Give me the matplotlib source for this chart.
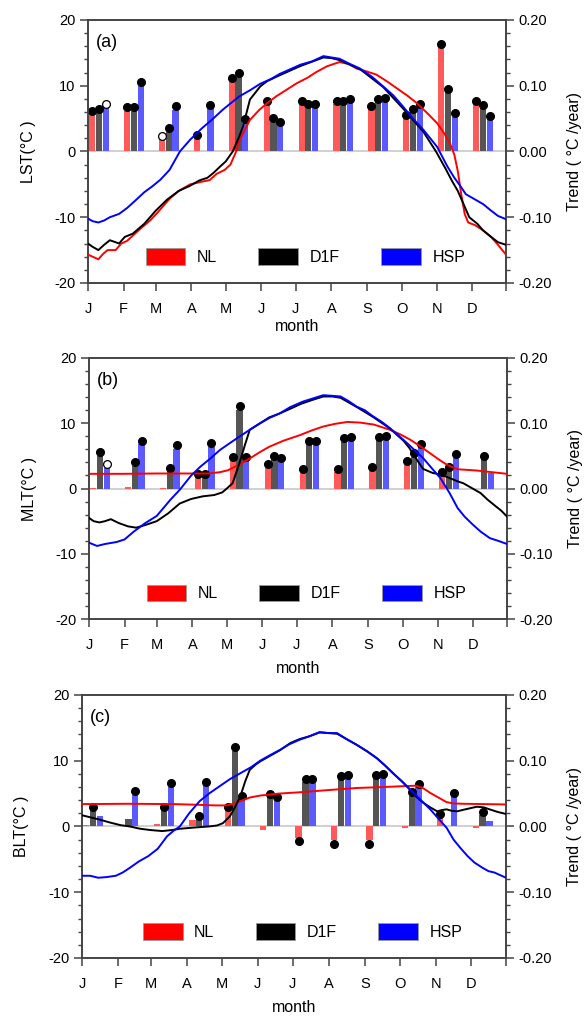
import numpy as np
import matplotlib
matplotlib.use('Agg')
import matplotlib.pyplot as plt
from matplotlib.patches import Patch
from matplotlib.ticker import MultipleLocator, FormatStrFormatter

plt.rcParams['font.family'] = ['Liberation Sans', 'DejaVu Sans']
plt.rcParams['axes.unicode_minus'] = False

# month axis (day of year)
month_days = [1, 32, 60, 91, 121, 152, 182, 213, 244, 274, 305, 335, 365]
month_labels = ['J', 'F', 'M', 'A', 'M', 'J', 'J', 'A', 'S', 'O', 'N', 'D', '']

# ---------------- (a) LST ----------------
# monthly trends (degC/year), dots: f = significant, o = not significant, - = none
nl_a = [0.056, 0.062, 0.019, 0.020, 0.106, 0.0725, 0.0725, 0.0725, 0.0645, 0.051, 0.159, 0.0725]
d1f_a = [0.060, 0.062, 0.030, 0.0, 0.115, 0.0455, 0.0675, 0.0725, 0.0745, 0.0595, 0.090, 0.066]
hsp_a = [0.0675, 0.100, 0.0635, 0.066, 0.044, 0.0405, 0.0675, 0.0745, 0.076, 0.067, 0.053, 0.049]
sig_nl_a = 'ffofffffffff'
sig_d1f_a = 'fff-ffffffff'
sig_hsp_a = 'offfffffffff'

# daily climatology (degC)
nl_a_day = [1, 5, 10, 14, 18, 25, 30, 35, 45, 55, 62, 72, 80, 90, 100, 107, 113, 120, 125, 130, 133,
            142, 150, 157, 165, 174, 183, 192, 200, 209, 220, 228, 235, 243, 252, 261, 270, 279, 287,
            296, 305, 311, 316, 320, 323, 326, 329, 332, 338, 345, 352, 358, 365]
nl_a_val = [-15.7, -16.0, -16.4, -15.6, -15.0, -15.0, -14.0, -13.6, -12.0, -10.5, -9.2, -7.2, -6.0,
            -5.0, -4.6, -4.35, -3.4, -2.8, -2.0, 0.0, 1.75, 4.8, 6.3, 7.35, 8.4, 9.4, 10.4, 11.2, 12.1,
            12.95, 13.6, 13.3, 12.6, 12.2, 11.7, 10.7, 9.6, 8.5, 7.4, 5.9, 4.3, 2.8, 1.3, -0.5, -3.0,
            -6.5, -9.5, -10.8, -11.2, -12.0, -13.0, -14.2, -15.7]
d1f_a_day = [1, 5, 10, 15, 20, 25, 28, 33, 40, 50, 60, 70, 80, 90, 98, 105, 110, 116, 121, 127, 132,
             136, 142, 151, 157, 168, 186, 206, 213, 220, 238, 258, 275, 293, 304, 312, 318, 323, 328,
             333, 340, 345, 352, 358, 365]
d1f_a_val = [-14.0, -14.5, -15.0, -14.2, -13.5, -13.8, -14.0, -13.0, -12.5, -11.0, -9.0, -7.3, -6.0,
             -5.2, -4.4, -4.0, -3.3, -2.3, -1.5, 0.0, 2.0, 3.8, 7.9, 9.9, 10.7, 11.6, 13.0, 14.3, 14.2,
             13.9, 12.5, 9.8, 6.6, 3.0, 0.0, -2.5, -4.5, -6.0, -8.0, -10.0, -11.0, -12.0, -13.0,
             -13.8, -14.2]
hsp_a_day = [1, 5, 10, 15, 20, 28, 35, 42, 50, 57, 64, 72, 81, 90, 100, 110, 118, 125, 133, 142, 151,
             160, 168, 177, 186, 196, 206, 213, 220, 228, 238, 248, 258, 267, 275, 284, 293, 305, 314,
             320, 325, 330, 337, 345, 352, 358, 365]
hsp_a_val = [-10.2, -10.6, -10.8, -10.5, -10.0, -9.5, -8.6, -7.5, -6.2, -5.3, -4.3, -2.8, 0.0, 1.8,
             3.5, 5.0, 6.3, 7.3, 8.4, 9.3, 10.3, 11.0, 11.8, 12.5, 13.2, 13.7, 14.5, 14.3, 14.1, 13.4,
             12.6, 11.4, 9.9, 8.5, 6.9, 5.0, 3.3, 0.7, -2.3, -4.0, -5.2, -6.5, -7.2, -8.0, -9.0, -9.8,
             -10.3]

# ---------------- (b) MLT ----------------
nl_b = [0.0015, 0.002, 0.0015, 0.0175, 0.044, 0.032, 0.025, 0.025, 0.0285, 0.0365, 0.020, -0.0015]
d1f_b = [0.0505, 0.035, 0.027, 0.0175, 0.121, 0.0455, 0.068, 0.072, 0.0745, 0.049, 0.0275, 0.0455]
hsp_b = [0.032, 0.0685, 0.061, 0.064, 0.0435, 0.0415, 0.068, 0.074, 0.0755, 0.063, 0.0475, 0.024]
sig_nl_b = '---ffffffff-'
sig_d1f_b = 'ffffffffffff'
sig_hsp_b = 'offffffffff-'

nl_b_day = [1, 30, 60, 90, 105, 115, 122, 130, 141, 150, 158, 170, 185, 195, 205, 215, 226, 237, 249,
            263, 272, 281, 290, 298, 306, 313, 322, 339, 352, 365]
nl_b_val = [2.25, 2.25, 2.3, 2.3, 2.3, 2.5, 2.8, 3.5, 4.6, 5.6, 6.4, 7.3, 8.2, 8.9, 9.5, 9.9, 10.2,
            10.1, 9.8, 9.0, 8.3, 7.45, 6.4, 5.4, 4.4, 3.6, 2.95, 2.75, 2.5, 2.25]
d1f_b_day = [1, 5, 10, 15, 20, 27, 35, 42, 50, 60, 70, 80, 90, 100, 110, 117, 121, 126, 132, 137, 141,
             150, 158, 167, 176, 186, 196, 205, 213, 220, 234, 248, 263, 275, 280, 288, 292, 300, 308,
             315, 322, 327, 335, 342, 348, 355, 360, 365]
d1f_b_val = [-4.5, -5.0, -5.2, -5.0, -4.7, -5.3, -5.8, -6.0, -5.6, -5.0, -3.8, -2.3, -1.6, -1.2, -1.0,
             -0.6, 0.0, 0.8, 3.9, 6.8, 9.0, 10.0, 10.9, 11.5, 12.2, 13.0, 13.6, 14.1, 14.1, 13.9, 12.5,
             11.0, 9.2, 7.3, 6.2, 4.0, 3.0, 2.4, 2.1, 1.6, 1.1, 0.8, 0.0, -0.7, -1.7, -2.7, -3.4, -4.3]
hsp_b_day = [1, 8, 15, 25, 32, 40, 50, 60, 72, 80, 90, 98, 106, 115, 124, 132, 141, 150, 158, 167, 176,
             187, 196, 205, 213, 220, 227, 234, 241, 248, 256, 263, 270, 278, 285, 292, 300, 307, 315,
             322, 328, 335, 342, 350, 357, 365]
hsp_b_val = [-8.3, -8.8, -8.5, -8.2, -7.8, -6.6, -5.3, -4.2, -1.7, -0.2, 2.0, 3.35, 4.5, 5.9, 7.0,
             7.95, 9.0, 10.0, 10.8, 11.5, 12.45, 13.3, 13.8, 14.3, 14.2, 14.1, 13.4, 12.55, 12.0, 11.1,
             10.2, 9.25, 8.2, 6.95, 5.8, 4.65, 3.0, 1.6, -0.7, -3.0, -4.3, -5.5, -6.6, -7.6, -8.0, -8.5]

# ---------------- (c) BLT ----------------
nl_c = [0.0015, 0.001, 0.003, 0.0105, 0.025, -0.006, -0.017, -0.021, -0.021, -0.002, 0.0135, -0.003]
d1f_c = [0.025, 0.012, 0.0245, 0.0115, 0.1155, 0.045, 0.067, 0.072, 0.074, 0.047, 0.0, 0.017]
hsp_c = [0.0155, 0.0485, 0.0605, 0.0625, 0.042, 0.040, 0.067, 0.074, 0.075, 0.0595, 0.046, 0.009]
sig_nl_c = '----f-fff-f-'
sig_d1f_c = 'f-ffffffff-f'
sig_hsp_c = '-ffffffffff-'

nl_c_day = [1, 40, 80, 100, 115, 125, 132, 137, 145, 154, 170, 188, 210, 237, 260, 280, 288, 294, 300,
            307, 314, 320, 328, 365]
nl_c_val = [3.4, 3.45, 3.4, 3.3, 3.2, 3.2, 3.5, 3.85, 4.4, 4.7, 5.0, 5.2, 5.5, 5.85, 6.0, 6.15, 6.2,
            5.8, 5.1, 4.4, 3.7, 3.5, 3.45, 3.35]
d1f_c_day = [1, 8, 16, 25, 34, 42, 51, 60, 70, 78, 85, 95, 102, 110, 117, 122, 128, 132, 137, 141, 145,
             150, 154, 160, 171, 180, 188, 196, 205, 213, 220, 228, 237, 246, 254, 261, 268, 276, 283,
             288, 294, 300, 306, 310, 314, 318, 323, 330, 340, 346, 351, 358, 365]
d1f_c_val = [1.7, 1.4, 1.05, 0.6, 0.2, 0.0, -0.35, -0.55, -0.7, -0.55, -0.35, -0.2, -0.1, 0.0, 0.15,
             0.5, 1.55, 2.8, 4.6, 6.8, 8.6, 9.4, 9.9, 10.5, 11.6, 12.7, 13.3, 13.7, 14.3, 14.2, 14.1,
             13.3, 12.4, 11.4, 10.4, 9.3, 8.1, 6.8, 5.5, 4.5, 3.6, 2.9, 2.3, 2.5, 2.6, 2.4, 2.3, 2.6,
             3.0, 2.9, 2.6, 2.2, 1.9]
hsp_c_day = [1, 8, 15, 22, 30, 36, 42, 50, 58, 66, 74, 80, 85, 93, 102, 110, 119, 128, 137, 146, 154,
             162, 171, 179, 188, 196, 205, 213, 220, 228, 237, 246, 254, 261, 268, 276, 283, 292, 300,
             307, 314, 320, 326, 332, 338, 345, 350, 355, 360, 365]
hsp_c_val = [-7.5, -7.5, -7.8, -7.7, -7.5, -7.0, -6.3, -5.3, -4.5, -3.4, -1.5, -0.6, 0.0, 2.0, 3.85,
             5.0, 6.1, 7.2, 8.1, 9.0, 10.0, 10.8, 11.65, 12.5, 13.2, 13.7, 14.35, 14.2, 14.2, 13.3,
             12.4, 11.4, 10.4, 9.3, 8.1, 6.8, 5.6, 4.0, 2.6, 1.2, -0.2, -2.0, -3.3, -4.5, -5.5, -6.3,
             -6.8, -7.0, -7.4, -7.8]

bar_colors = ['#ff5a5a', '#555555', '#5a5aff']
line_colors = ['#ff0000', '#000000', '#0000ff']
spine_color = '#444444'


def draw_panel(rect, tag, ylabel, bars, sigs, curves, xlab_pad):
    ax = fig.add_axes(rect)
    ax2 = ax.twinx()
    ax.set_zorder(ax2.get_zorder() + 1)
    ax.patch.set_visible(False)

    # bars (trend, right axis)
    centers = 10.5 + 30.4 * np.arange(12)
    step = 5.9
    ax2.axhline(0, color='#c8c8c8', lw=1.2, zorder=0)
    for k, (vals, sig) in enumerate(zip(bars, sigs)):
        xs = centers + (k - 1) * step
        vals = np.array(vals)
        ax2.bar(xs, vals, width=5.4, color=bar_colors[k], edgecolor='none', zorder=1)
        for x, v, s in zip(xs, vals, sig):
            if s == '-':
                continue
            yy = v + np.sign(v if v != 0 else 1) * 0.005
            fc = 'black' if s == 'f' else 'white'
            ax2.plot(x, yy, 'o', ms=5.6, mfc=fc, mec='black', mew=0.9, zorder=3)

    # daily curves (left axis)
    for k, (d, v) in enumerate(curves):
        ax.plot(d, v, color=line_colors[k], lw=1.4, zorder=4)

    ax.set_xlim(1, 365)
    ax.set_ylim(-20, 20)
    ax2.set_ylim(-0.2, 0.2)
    ax.set_xticks(month_days)
    ax.set_xticklabels(month_labels)
    ax.set_yticks([-20, -10, 0, 10, 20])
    ax.yaxis.set_minor_locator(MultipleLocator(2))
    ax2.set_yticks([-0.2, -0.1, 0.0, 0.1, 0.2])
    ax2.yaxis.set_minor_locator(MultipleLocator(0.02))
    ax2.yaxis.set_major_formatter(FormatStrFormatter('%.2f'))

    for a in (ax, ax2):
        for sp in a.spines.values():
            sp.set_color(spine_color)
            sp.set_linewidth(1.2)
        a.tick_params(which='major', direction='out', length=6, width=1.1, color=spine_color,
                      labelsize=10.5, pad=3)
        a.tick_params(which='minor', direction='out', length=3, width=1.0, color=spine_color)
    ax.tick_params(axis='x', pad=8)

    ax.set_ylabel(ylabel, fontsize=11.5)
    ax.yaxis.set_label_coords(-0.125, 0.5)
    ax2.set_ylabel('Trend ( °C /year)', fontsize=11.5)
    ax2.yaxis.set_label_coords(1.145, 0.5)
    ax.set_xlabel('month', fontsize=11.5, labelpad=xlab_pad)
    ax.text(0.018, 0.915, tag, transform=ax.transAxes, fontsize=13, va='center')

    handles = [Patch(facecolor=c, edgecolor='#999999', lw=0.6) for c in line_colors]
    ax.legend(handles, ['NL', 'D1F', 'HSP'], ncol=3, loc='center', bbox_to_anchor=(0.52, 0.10),
              frameon=False, fontsize=11.5, handlelength=2.5, handleheight=1.2,
              handletextpad=0.7, columnspacing=2.6)
    return ax


fig = plt.figure(figsize=(5.84, 10.19), dpi=100)

draw_panel([0.1507, 0.7223, 0.7158, 0.2581], '(a)', 'LST(°C )',
           [nl_a, d1f_a, hsp_a], [sig_nl_a, sig_d1f_a, sig_hsp_a],
           [(nl_a_day, nl_a_val), (d1f_a_day, d1f_a_val), (hsp_a_day, hsp_a_val)], 2)
draw_panel([0.1524, 0.3925, 0.7158, 0.2562], '(b)', 'MLT(°C )',
           [nl_b, d1f_b, hsp_b], [sig_nl_b, sig_d1f_b, sig_hsp_b],
           [(nl_b_day, nl_b_val), (d1f_b_day, d1f_b_val), (hsp_b_day, hsp_b_val)], 6)
draw_panel([0.1404, 0.0599, 0.7260, 0.2581], '(c)', 'BLT(°C )',
           [nl_c, d1f_c, hsp_c], [sig_nl_c, sig_d1f_c, sig_hsp_c],
           [(nl_c_day, nl_c_val), (d1f_c_day, d1f_c_val), (hsp_c_day, hsp_c_val)], 6)

fig.savefig('out.png', dpi=100)
